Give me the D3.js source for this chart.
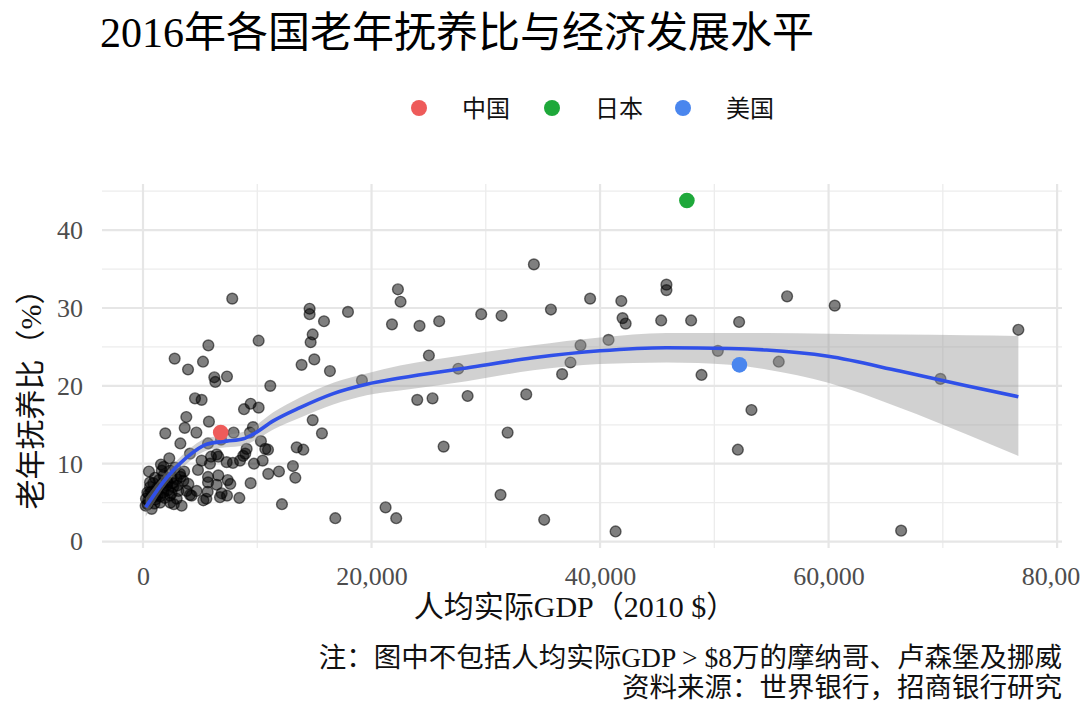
<!DOCTYPE html>
<html lang="zh">
<head>
<meta charset="UTF-8">
<title>2016年各国老年抚养比与经济发展水平</title>
<style>
  body { margin: 0; background: #fff; }
  svg text { font-family: "Liberation Serif", "DejaVu Serif", "Noto Sans CJK SC", serif; }
</style>
</head>
<body>
<svg id="chart" width="1080" height="720"></svg>
<script src="https://cdn.jsdelivr.net/npm/d3@7/dist/d3.min.js"></script>
<script>
var gdp = [
  230, 460, 900, 380, 1200, 1640, 2070, 2510, 2950, 3530, 3970, 610, 1050, 1640, 2360,
  3240, 1780, 2360, 2950, 1490, 760, 3380, 4250, 4690, 3810, 2640, 2070, 260, 610, 5860,
  6590, 5690, 6740, 5280, 2390, 4110, 5540, 1570, 520, 2300, 4110, 4810, 5130, 6450, 5950,
  7320, 8490, 1300, 900, 1800, 2800, 3100, 400, 1100, 2200, 3600, 700, 1400, 2700, 1900,
  800, 1250, 1700, 2150, 2600, 3000, 1000, 1500, 500, 2500, 3300, 1800,
  5690, 7410, 7640, 6450, 5660, 6880, 7350, 8430, 9420, 12160, 16830, 21230, 22160,
  1950, 3650, 4670, 3270, 5690, 7930, 9620, 9360, 10320, 10940, 10700, 13450, 14030, 6830,
  9070, 8770, 6590, 7870, 8950, 9710, 10470, 10960, 11900, 13120, 13330,
  3790, 5770, 14850, 15660, 4550, 5130, 8840, 9420, 10120, 11140, 19160,
  2770, 5250, 3940, 6240, 6330, 7350, 5720, 10120, 7810,
  14580, 14580, 15840, 17940, 14850, 14670, 14990, 13880, 16360,
  22310, 22540, 21790, 24200, 24000,
  25920, 29600, 31380, 35700, 39130, 41860, 41970, 42240, 45810, 45810, 45350, 47970, 50310,
  48880, 40740, 38290, 37410, 36680, 25020, 27590, 25340, 28410, 33540, 31910, 26310, 31290,
  35110, 41360, 34210,
  56370, 60540, 52170, 76610, 55640, 69790, 53250, 52060, 66350
];
var ratio = [
  4.6, 5.3, 5.7, 6.3, 6.8, 7.4, 7.8, 8.2, 8.0, 7.8, 7.4, 7.0, 8.2, 9.1, 9.1,
  8.7, 6.3, 5.9, 5.5, 5.0, 4.2, 4.6, 5.9, 6.5, 6.5, 7.0, 7.2, 5.5, 7.6, 10.0,
  8.5, 7.6, 5.7, 5.3, 5.0, 6.0, 5.5, 9.9, 9.0, 10.7, 11.3, 9.2, 10.4, 11.2, 10.9,
  10.2, 10.4, 6.0, 7.5, 8.5, 9.5, 6.5, 4.8, 5.4, 6.6, 9.0, 6.4, 7.9, 4.8, 5.6,
  5.9, 6.5, 7.0, 7.6, 7.5, 7.2, 4.9, 5.8, 6.1, 6.2, 8.3, 9.6,
  8.3, 7.9, 7.4, 7.3, 6.4, 6.2, 5.9, 5.6, 7.5, 4.8, 3.0, 4.4, 3.0,
  13.9, 14.6, 14.0, 12.6, 12.6, 14.0, 14.7, 14.0, 12.9, 11.8, 11.9, 12.1, 11.8, 13.1,
  11.9, 11.0, 10.9, 10.1, 11.3, 10.0, 10.4, 8.7, 9.0, 9.7, 8.2,
  16.0, 15.4, 15.6, 13.9, 18.4, 18.2, 17.0, 17.7, 17.2, 20.0, 20.7,
  23.5, 23.1, 22.1, 21.1, 20.5, 21.2, 25.2, 25.8, 31.2,
  29.9, 29.2, 28.3, 29.5, 26.6, 25.6, 23.4, 22.7, 21.9,
  32.4, 30.8, 27.9, 27.7, 18.2,
  28.3, 29.2, 29.0, 29.8, 31.2, 30.9, 28.7, 28.0, 33.0, 32.3, 28.4, 28.4, 24.5,
  21.4, 25.9, 25.2, 23.0, 21.5, 23.9, 22.2, 18.4, 18.7, 18.9, 14.0, 12.2, 6.0,
  2.8, 1.3, 35.6,
  31.5, 30.3, 28.2, 27.2, 23.1, 20.9, 16.9, 11.8, 1.4
];

// highlighted countries
var hiNames = ["中国", "日本", "美国"];
var hiGdp = [6800, 47600, 52200];
var hiRatio = [14.0, 43.8, 22.7];
var hiColors = ["#ee5b5a", "#1ea83a", "#4a86ee"];

// loess fit and its confidence band
var smX  = [230, 2070, 3820, 5570, 7320, 8780, 9650, 11400, 13740, 16650, 19570, 22490, 28320, 34150, 39980, 45810, 51350, 54560, 59960, 66230, 72060, 76610];
var smY  = [4.4, 8.2, 10.8, 12.5, 12.9, 13.2, 13.8, 15.5, 17.2, 19.0, 20.2, 21.0, 22.3, 23.6, 24.5, 24.9, 24.8, 24.6, 23.8, 21.9, 20.0, 18.6];
var smLo = [3.2, 7.4, 10.0, 11.7, 12.1, 12.3, 12.9, 14.4, 15.9, 17.6, 18.8, 19.4, 20.6, 22.0, 22.8, 23.0, 22.7, 22.1, 20.4, 17.2, 13.8, 11.0];
var smHi = [5.6, 9.0, 11.6, 13.3, 13.7, 14.1, 14.7, 16.6, 18.5, 20.4, 21.6, 22.6, 24.0, 25.2, 26.2, 26.8, 26.8, 26.8, 26.7, 26.6, 26.5, 26.4];

var xTicks = [0, 20000, 40000, 60000, 80000];
var xMinor = [10000, 30000, 50000, 70000];
var yTicks = [0, 10, 20, 30, 40];
var yMinor = [5, 15, 25, 35, 45];

var svg = d3.select("#chart"),
  pL = 102, pR = 1062, pT = 184, pB = 548,
  font = '"Liberation Serif", "DejaVu Serif", "Noto Sans CJK SC", serif';

function expand(ext) {
  var pad = (ext[1] - ext[0]) * 0.05;
  return [ext[0] - pad, ext[1] + pad];
}

var x = d3.scaleLinear()
  .domain(expand(d3.extent(gdp.concat(hiGdp))))
  .range([pL, pR]);
var y = d3.scaleLinear()
  .domain(expand(d3.extent(ratio.concat(hiRatio))))
  .range([pB, pT]);

// grid
var grid = svg.append("g");
grid.selectAll(".vx").data(xMinor).enter().append("line")
  .attr("x1", x).attr("x2", x).attr("y1", pT).attr("y2", pB)
  .attr("stroke", "#ececec").attr("stroke-width", 1.3);
grid.selectAll(".hy").data(yMinor).enter().append("line")
  .attr("y1", y).attr("y2", y).attr("x1", pL).attr("x2", pR)
  .attr("stroke", "#ececec").attr("stroke-width", 1.3);
grid.selectAll(".vX").data(xTicks).enter().append("line")
  .attr("x1", x).attr("x2", x).attr("y1", pT).attr("y2", pB)
  .attr("stroke", "#e6e6e6").attr("stroke-width", 2.2);
grid.selectAll(".hY").data(yTicks).enter().append("line")
  .attr("y1", y).attr("y2", y).attr("x1", pL).attr("x2", pR)
  .attr("stroke", "#e6e6e6").attr("stroke-width", 2.2);

// axes
var xAxis = svg.append("g")
  .attr("transform", "translate(0," + pB + ")")
  .call(d3.axisBottom(x).tickValues(xTicks).tickFormat(d3.format(",")).tickSize(0).tickPadding(19));
var yAxis = svg.append("g")
  .attr("transform", "translate(" + pL + ",0)")
  .call(d3.axisLeft(y).tickValues(yTicks).tickSize(0).tickPadding(19));
[xAxis, yAxis].forEach(function (a) {
  a.select(".domain").remove();
  a.selectAll("text").attr("font-family", font).attr("font-size", 26).attr("fill", "#4d4d4d");
});

// points
svg.append("g").selectAll("circle")
  .data(gdp.map(function (g, i) { return [g, ratio[i]]; }))
  .enter().append("circle")
  .attr("cx", function (d) { return x(d[0]); })
  .attr("cy", function (d) { return y(d[1]); })
  .attr("r", 5.4)
  .attr("fill", "rgba(0,0,0,0.5)")
  .attr("stroke", "rgba(0,0,0,0.55)")
  .attr("stroke-width", 1.4);

// smooth band + line
var band = d3.area()
  .x(function (d, i) { return x(smX[i]); })
  .y0(function (d, i) { return y(smLo[i]); })
  .y1(function (d, i) { return y(smHi[i]); })
  .curve(d3.curveMonotoneX);
svg.append("path").datum(smX).attr("d", band)
  .attr("fill", "#999999").attr("fill-opacity", 0.45);

var line = d3.line()
  .x(function (d, i) { return x(smX[i]); })
  .y(function (d, i) { return y(smY[i]); })
  .curve(d3.curveMonotoneX);
svg.append("path").datum(smX).attr("d", line)
  .attr("fill", "none").attr("stroke", "#3050e8").attr("stroke-width", 3.6);

// highlighted countries
svg.append("g").selectAll("circle")
  .data(hiNames).enter().append("circle")
  .attr("cx", function (d, i) { return x(hiGdp[i]); })
  .attr("cy", function (d, i) { return y(hiRatio[i]); })
  .attr("r", 7.8)
  .attr("fill", function (d, i) { return hiColors[i]; });

// legend
var legX = [419, 552, 683];
var leg = svg.append("g").selectAll("g").data(hiNames).enter().append("g")
  .attr("transform", function (d, i) { return "translate(" + legX[i] + ",108)"; });
leg.append("circle").attr("r", 8).attr("fill", function (d, i) { return hiColors[i]; });
leg.append("text").attr("x", 43).attr("dy", "0.36em")
  .attr("font-size", 24).attr("fill", "#111").text(function (d) { return d; });

// titles
svg.append("text").attr("x", 100).attr("y", 47)
  .attr("font-size", 42).attr("fill", "#000")
  .text("2016年各国老年抚养比与经济发展水平");

svg.append("text").attr("x", 575).attr("y", 606).attr("dy", "0.35em")
  .attr("text-anchor", "middle").attr("font-size", 30).attr("fill", "#111")
  .text("人均实际GDP（2010 $）");

svg.append("text")
  .attr("transform", "translate(30,392) rotate(-90)")
  .attr("dy", "0.35em").attr("text-anchor", "middle")
  .attr("font-size", 30).attr("fill", "#111")
  .text("老年抚养比（%）");

var notes = ["注：图中不包括人均实际GDP > $8万的摩纳哥、卢森堡及挪威", "资料来源：世界银行，招商银行研究"];
svg.selectAll(".note").data(notes).enter().append("text")
  .attr("x", pR).attr("y", function (d, i) { return 657 + i * 30; })
  .attr("dy", "0.35em").attr("text-anchor", "end")
  .attr("font-size", 27.5).attr("fill", "#111")
  .text(function (d) { return d; });
</script>
</body>
</html>
